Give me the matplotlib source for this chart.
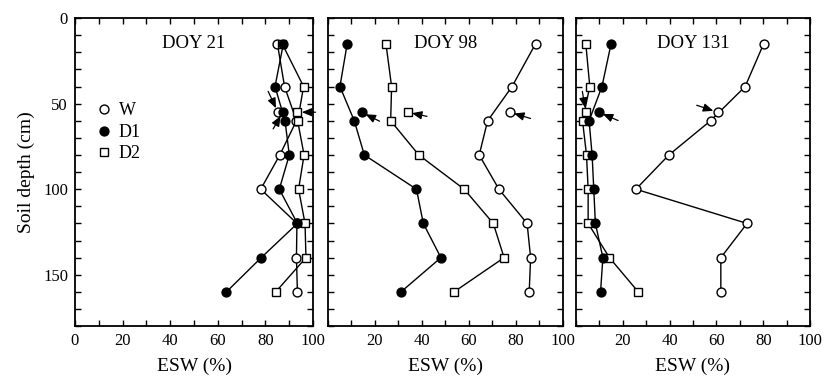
import numpy as np
import matplotlib.pyplot as plt
from matplotlib.ticker import MultipleLocator, FixedLocator
from matplotlib.lines import Line2D

plt.rcParams['font.family'] = ['Liberation Serif', 'DejaVu Serif']

# soil depths (cm) of the connected profile points
depths = [15, 40, 60, 80, 100, 120, 140, 160]
extra_depth = 55  # the separate, arrow-marked measurement

titles = ['DOY 21', 'DOY 98', 'DOY 131']

# ESW (%) for each treatment, one list per day
w_vals = [[85, 88, 93, 86, 78, 93.2, 93, 93.4],
          [88.4, 78.4, 68, 64.4, 72.8, 84.8, 86.3, 85.7],
          [80.2, 72.3, 57.5, 39.7, 25.6, 73.1, 61.9, 61.9]]
d1_vals = [[87.5, 84, 88.2, 90, 85.8, 93.4, 78.2, 63.6],
           [8.2, 5.1, 11.2, 15.5, 37.7, 40.6, 48.1, 31.1],
           [15, 11.1, 5.6, 6.9, 7.6, 8.3, 11.5, 10.5]]
d2_vals = [[87, 96, 93.5, 96.2, 93.9, 96.6, 97, 84.3],
           [24.7, 27.1, 26.7, 38.7, 58, 70.4, 75, 53.7],
           [4.2, 5.9, 2.8, 4.5, 5.2, 5.2, 14.3, 26.6]]

# ESW at 55 cm (marked with arrows)
w_55 = [85.2, 77.4, 60.5]
d1_55 = [87.3, 14.3, 9.7]
d2_55 = [93.4, 33.9, 4.2]

# arrow tail offsets (points) relative to each 55 cm point: (W, D1, D2)
arrow_offsets = [[(-7, 15), (-7, -12), (13, 0)],
                 [(15, -4.5), (13, -6.5), (14, -3)],
                 [(-15, 5), (14, -6), (-2.5, 15)]]

fig = plt.figure(figsize=(8.24, 3.77), dpi=100)
lefts = [0.091, 0.398, 0.699]
widths = [0.289, 0.285, 0.284]
bottom, height = 0.135, 0.817

styles = {
    'W': dict(marker='o', mfc='white', mec='k', ms=6.4),
    'D1': dict(marker='o', mfc='k', mec='k', ms=6.4),
    'D2': dict(marker='s', mfc='white', mec='k', ms=5.5),
}

for i in range(3):
    ax = fig.add_axes([lefts[i], bottom, widths[i], height])
    series = [('W', w_vals[i], w_55[i], 3), ('D2', d2_vals[i], d2_55[i], 4),
              ('D1', d1_vals[i], d1_55[i], 5)]
    for name, vals, v55, z in series:
        st = styles[name]
        ax.plot(vals, depths, color='k', lw=1.0, zorder=z, **st)
        ax.plot([v55], [extra_depth], ls='none', zorder=z, **st)
        off = arrow_offsets[i][['W', 'D1', 'D2'].index(name)]
        ax.annotate('', xy=(v55, extra_depth), xytext=off,
                    textcoords='offset points',
                    arrowprops=dict(arrowstyle='-|>,head_length=0.6,head_width=0.25',
                                    color='k', lw=0.9, shrinkA=0, shrinkB=3.2),
                    annotation_clip=False, zorder=6)

    ax.set_xlim(0, 100)
    ax.set_ylim(180, 0)
    ax.text(50, 15, titles[i], ha='center', va='center', fontsize=13.5)

    if i == 0:
        ax.xaxis.set_major_locator(FixedLocator([0, 20, 40, 60, 80, 100]))
    else:
        ax.xaxis.set_major_locator(FixedLocator([20, 40, 60, 80, 100]))
    ax.xaxis.set_minor_locator(MultipleLocator(10))
    ax.yaxis.set_major_locator(FixedLocator([0, 50, 100, 150]))
    ax.yaxis.set_minor_locator(MultipleLocator(10))
    ax.tick_params(which='both', direction='in', top=True, right=True,
                   length=4, width=1.0, labelsize=12)
    ax.tick_params(axis='x', pad=5)
    ax.tick_params(axis='y', pad=5)
    for sp in ax.spines.values():
        sp.set_linewidth(1.3)
    ax.set_xlabel('ESW (%)', fontsize=14, labelpad=6)
    if i == 0:
        ax.set_ylabel('Soil depth (cm)', fontsize=14, labelpad=6)
        handles = [Line2D([], [], ls='none', **styles[n]) for n in ['W', 'D1', 'D2']]
        ax.legend(handles, ['W', 'D1', 'D2'], loc='upper left',
                  bbox_to_anchor=(0.07, 0.75), frameon=False, fontsize=13,
                  handlelength=0.6, handletextpad=0.5, labelspacing=0.25,
                  borderaxespad=0)
    else:
        ax.set_yticklabels([])

fig.savefig('out.png', dpi=100)
